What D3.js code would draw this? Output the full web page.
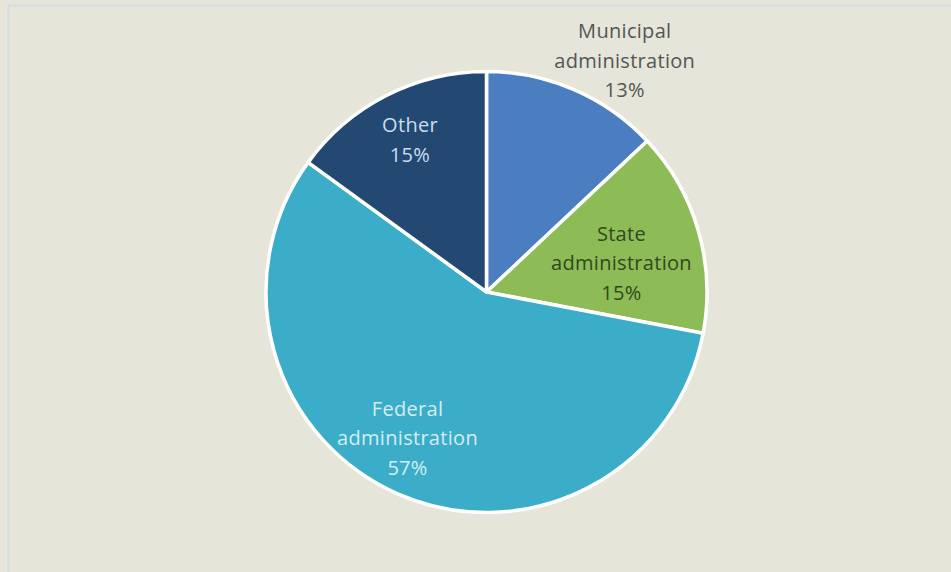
<!DOCTYPE html>
<html>
<head>
<meta charset="utf-8">
<script src="https://cdn.jsdelivr.net/npm/d3@7"></script>
<style>
  html, body { margin: 0; padding: 0; background: #e7e5d9; }
  svg { display: block; }
</style>
</head>
<body>
<svg id="chart" width="951" height="572"></svg>
<script>
// Data
const categories = ["Municipal administration", "State administration", "Federal administration", "Other"];
const shares = [13, 15, 57, 15];
const labelLines = [["Municipal", "administration"], ["State", "administration"], ["Federal", "administration"], ["Other"]];
const sliceColors = ["#4a7ec0", "#8dbb55", "#3badc8", "#234973"];
const labelColors = ["#555555", "#2d4a1e", "#d3edf3", "#cadcee"];

// Label placement around the pie: angle (degrees, clockwise from 12 o'clock) and radius factor
const labelPlacement = [[30.9, 1.221], [77.9, 0.626], [208.4, 0.753], [333.3, 0.772]];

const W = 951, H = 572;
const cx = 486.5, cy = 292, R = 220.5;

const svg = d3.select("#chart");

svg.append("rect").attr("width", W).attr("height", H).attr("fill", "#e7e5d9");

// Frame panel
svg.append("rect")
  .attr("x", 8.5).attr("y", 5.5)
  .attr("width", W).attr("height", H)
  .attr("fill", "#e5e5d9")
  .attr("stroke", "#d4dde1")
  .attr("stroke-width", 2);

// Pie
const pie = d3.pie().sort(null).value(d => d);
const arcs = pie(shares);
const arc = d3.arc().innerRadius(0).outerRadius(R);

const g = svg.append("g").attr("transform", `translate(${cx},${cy})`);

g.selectAll("path.slice")
  .data(arcs)
  .join("path")
  .attr("class", "slice")
  .attr("d", arc)
  .attr("fill", (d, i) => sliceColors[i])
  .attr("stroke", "#ffffff")
  .attr("stroke-width", 3.5)
  .attr("stroke-linejoin", "round");

// Labels
const lineH = 29.5;
g.selectAll("text.lbl")
  .data(arcs)
  .join("text")
  .attr("class", "lbl")
  .attr("font-family", "'Open Sans', sans-serif")
  .attr("font-size", 20)
  .attr("font-weight", 500)
  .attr("letter-spacing", 0.3)
  .attr("text-anchor", "middle")
  .attr("fill", (d, i) => labelColors[i])
  .each(function (d, i) {
    const [deg, k] = labelPlacement[i];
    const a = deg * Math.PI / 180;
    const x = Math.sin(a) * R * k;
    const y = -Math.cos(a) * R * k;
    const lines = labelLines[i].concat([`${shares[i]}%`]);
    const n = lines.length;
    d3.select(this).selectAll("tspan")
      .data(lines)
      .join("tspan")
      .attr("x", x)
      .attr("y", (t, j) => y + (j - (n - 1) / 2) * lineH)
      .attr("dy", "0.35em")
      .text(t => t);
  });
</script>
</body>
</html>
